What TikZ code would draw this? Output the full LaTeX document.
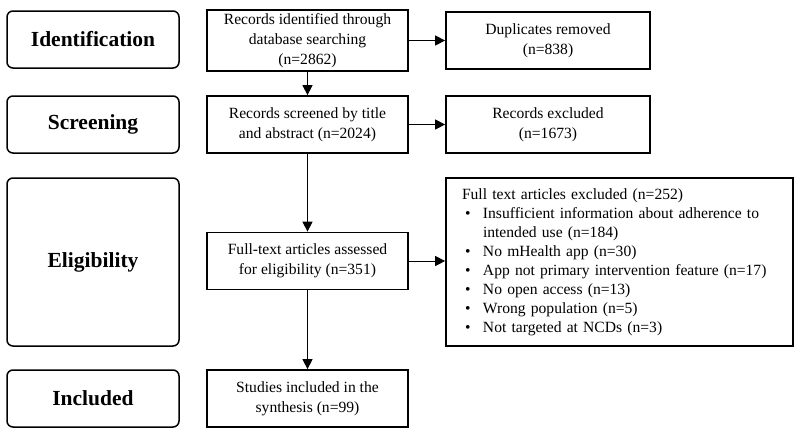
\documentclass[tikz,border=0pt]{standalone}
\usepackage{fontspec}
\setmainfont{Liberation Serif}
\usepackage{tikz}
\usetikzlibrary{arrows.meta}

\newcommand{\exitem}[1]{\par\noindent\makebox[21pt][l]{\hspace{3pt}\textbullet}#1}
\newcommand{\exmore}[1]{\par\noindent\hspace*{21pt}#1}

\begin{document}
\begin{tikzpicture}[x=1pt,y=-1pt]
\tikzstyle{stage}=[draw,rounded corners=6pt,line width=1.5pt,minimum width=172pt,minimum height=57pt,font=\bfseries\fontsize{21.5}{24}\selectfont];
\tikzstyle{stepbox}=[draw,line width=1.7pt,minimum width=201pt,minimum height=57pt,align=center,font=\fontsize{15.6}{20}\selectfont];
\tikzstyle{outbox}=[stepbox,minimum width=204pt];
\tikzstyle{flow}=[line width=0.9pt,-{Triangle[length=10pt,width=10pt]}];
\useasboundingbox (0,0) rectangle (800,432);
% stages
\node[stage](s1) at (93,39.5) {Identification};
\node[stage](s2) at (93,124.5) {Screening};
\node[stage,minimum height=168pt](s3) at (93,262) {Eligibility};
\node[stage](s4) at (93,398.5) {Included};
% main column
\node[stepbox](b1) at (307.5,40.5) {Records identified through\\database searching\\(n=2862)};
\node[stepbox](b2) at (307.5,124.5) {Records screened by title\\and abstract (n=2024)};
\node[stepbox](b3) at (307.5,261) {Full-text articles assessed\\for eligibility (n=351)};
\node[stepbox](b4) at (307.5,398.5) {Studies included in the\\synthesis (n=99)};
% removed / excluded
\node[outbox](d1) at (548,40.5) {Duplicates removed\\(n=838)};
\node[outbox](d2) at (548,124.5) {Records excluded\\(n=1673)};
\node[draw,line width=1.7pt,minimum width=347pt,minimum height=168pt,text width=315pt,align=left,font=\fontsize{15.6}{19}\selectfont](ex) at (619.5,262) {Full text articles excluded (n=252)
\exitem{Insufficient information about adherence to}
\exmore{intended use (n=184)}
\exitem{No mHealth app (n=30)}
\exitem{App not primary intervention feature (n=17)}
\exitem{No open access (n=13)}
\exitem{Wrong population (n=5)}
\exitem{Not targeted at NCDs (n=3)}};
\draw[flow](b1)--(b2);
\draw[flow](b2)--(b3);
\draw[flow](b3)--(b4);
\draw[flow](b1)--(d1);
\draw[flow](b2)--(d2);
\draw[flow](b3.east)--(b3.east-|ex.west);
\end{tikzpicture}
\end{document}
